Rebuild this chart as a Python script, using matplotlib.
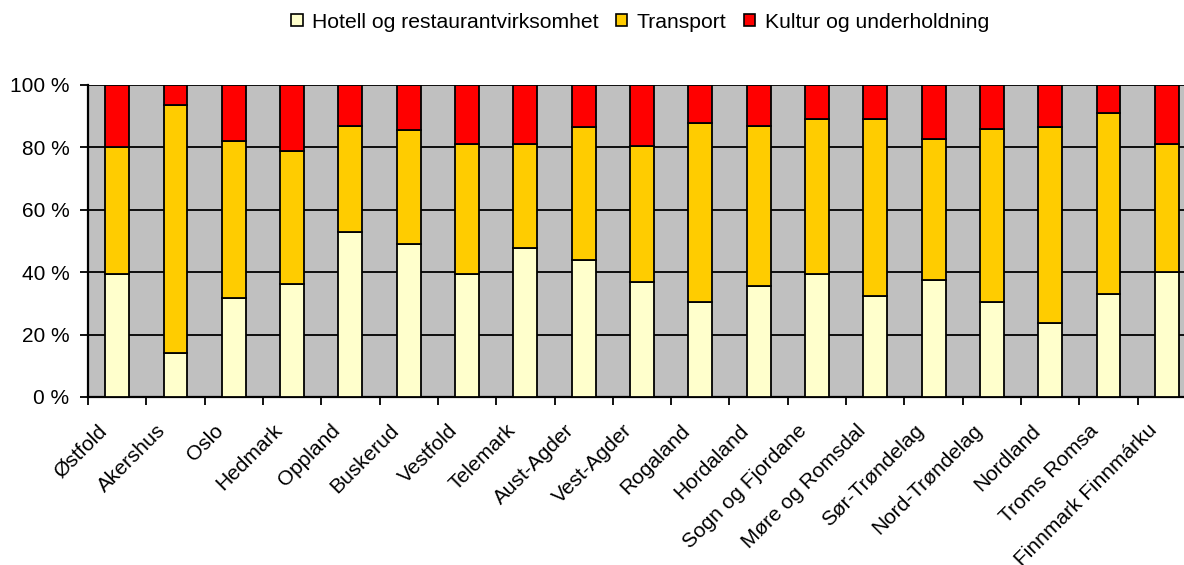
import numpy as np
import matplotlib
matplotlib.use("Agg")
import matplotlib.pyplot as plt
import matplotlib.transforms as mtransforms
from matplotlib.patches import Patch

plt.rcParams['font.family'] = ['Liberation Sans', 'DejaVu Sans']

fylker = ["Østfold", "Akershus", "Oslo", "Hedmark", "Oppland", "Buskerud",
          "Vestfold", "Telemark", "Aust-Agder", "Vest-Agder", "Rogaland",
          "Hordaland", "Sogn og Fjordane", "Møre og Romsdal", "Sør-Trøndelag",
          "Nord-Trøndelag", "Nordland", "Troms Romsa", "Finnmark Finnmárku"]
hotell = [39.3, 14.1, 31.7, 36.1, 52.8, 49.0, 39.3, 47.8, 43.8, 36.8,
          30.4, 35.5, 39.3, 32.3, 37.4, 30.4, 23.8, 32.9, 40.0]
transport = [40.7, 79.5, 50.2, 42.6, 34.2, 36.7, 41.9, 33.4, 42.7, 43.8,
             57.3, 51.5, 49.7, 56.7, 45.2, 55.4, 62.7, 58.0, 41.2]
kultur = [20.0, 6.4, 18.1, 21.3, 13.0, 14.3, 18.8, 18.8, 13.5, 19.4,
          12.3, 13.0, 11.0, 11.0, 17.4, 14.2, 13.5, 9.1, 18.8]
serier = ["Hotell og restaurantvirksomhet", "Transport", "Kultur og underholdning"]
farger = ["#FFFFCC", "#FFCC00", "#FF0000"]

fig = plt.figure(figsize=(11.84, 5.65), dpi=100)
ax = fig.add_axes([88/1184, 168/565, 1108/1184, 312/565])
ax.set_facecolor("#C0C0C0")

x = np.arange(len(fylker))
bunn = np.zeros(len(fylker))
for verdier, farge in zip([hotell, transport, kultur], farger):
    ax.bar(x, verdier, width=0.41, bottom=bunn, color=farge,
           edgecolor="black", linewidth=1.3, zorder=3)
    bunn += np.array(verdier)

ax.set_xlim(-0.5, len(fylker) - 0.5)
ax.set_ylim(0, 100)
ax.set_yticks(range(0, 101, 20))
ax.set_yticklabels([f"{v} %" for v in range(0, 101, 20)], fontsize=15)
ax.yaxis.grid(True, color="black", linewidth=1.3, zorder=1)

ax.set_xticks(x)
ax.set_xticklabels(fylker, rotation=45, ha="right", va="center",
                   rotation_mode="anchor", fontsize=15)
ax.set_xticks(np.arange(-0.5, len(fylker)), minor=True)
ax.tick_params(axis="x", which="major", length=0, pad=22)
ax.tick_params(axis="x", which="minor", length=6, width=1.3, direction="out")
ax.tick_params(axis="y", length=6, width=1.3, direction="out", pad=7.5)

# flytt etikettene litt til venstre
skift = mtransforms.ScaledTranslation(-0.13, 0, fig.dpi_scale_trans)
for lbl in ax.get_xticklabels():
    lbl.set_transform(lbl.get_transform() + skift)

for s in ["top", "right"]:
    ax.spines[s].set_visible(False)
ax.spines["left"].set_linewidth(1.6)
ax.spines["bottom"].set_linewidth(1.6)

handles = [Patch(facecolor=f, edgecolor="black", linewidth=1.2) for f in farger]
fig.legend(handles, serier, loc="center", bbox_to_anchor=(640/1184, 1 - 22/565),
           ncol=3, frameon=False, fontsize=15.2, handlelength=0.55, handleheight=0.55,
           handletextpad=0.45, columnspacing=0.8)

fig.savefig("out.png", dpi=100)
